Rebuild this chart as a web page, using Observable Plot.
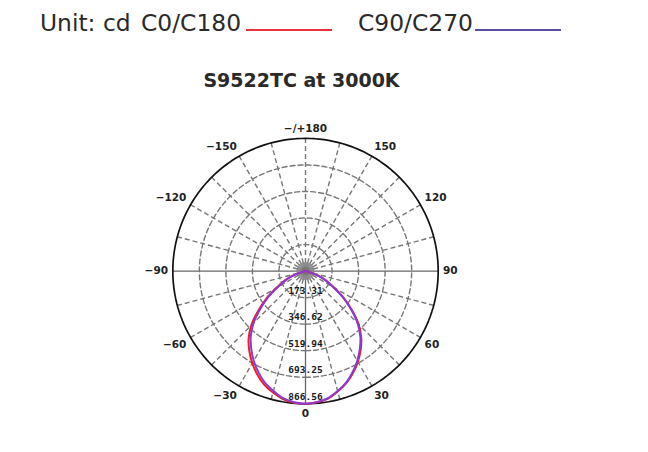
<!DOCTYPE html>
<html>
<head>
<meta charset="utf-8">
<script src="https://cdn.jsdelivr.net/npm/d3@7"></script>
<script src="https://cdn.jsdelivr.net/npm/@observablehq/plot@0.6"></script>
<style>
  body { margin: 0; background: #fff; width: 648px; height: 452px; overflow: hidden; position: relative; font-family: "DejaVu Sans", sans-serif; }
  .lg { position: absolute; font-size: 23.4px; line-height: 23.4px; color: #2a2a2a; white-space: nowrap; }
  .lgline { position: absolute; height: 0; border-top: 2px solid; }
  #title { position: absolute; top: 71px; left: 0; width: 603px; text-align: center; font-size: 19px; line-height: 19px; font-weight: bold; color: #2a2a2a; white-space: nowrap; }
  #chart { position: absolute; left: 0; top: 100px; }
</style>
</head>
<body>
<div id="legend"></div>
<div id="title"></div>
<div id="chart"></div>
<script>
// ---- data ----
const titleText = "S9522TC at 3000K";
const unitText = "Unit: cd";
const seriesNames = ["C0/C180", "C90/C270"];
const seriesColors = ["#ee1c25", "#8c3ad4"];
const legendColors = ["#e8333c", "#5c4da0"];

// gamma angles (deg), negative = left half, positive = right half, 0 = nadir
const angles = [-90,-85,-80,-75,-70,-65,-60,-55,-50,-45,-40,-35,-30,-25,-20,-15,-10,-5,0,
                5,10,15,20,25,30,35,40,45,50,55,60,65,70,75,80,85,90];
const c0c180 = [0,0,0,25,96,155,219,312,404,500,578,639,695,745,789,821,849,863,866.56,
                860,845,814,779,734,684,628,566,490,395,304,214,150,92,22,0,0,0];
const c90c270 = [0,0,0,20,90,147,209,299,387,480,556,618,676,728,775,810,843,860,866.56,
                 859,843,811,775,728,676,619,557,481,388,299,209,147,90,20,0,0,0];

const ringValues = [173.31, 346.62, 519.94, 693.25, 866.56];
const angleTicks = [0, 30, 60, 90, 120, 150, 180, -150, -120, -90, -60, -30];
const angleTickLabels = ["0", "30", "60", "90", "120", "150", "\u2212/+180", "\u2212150", "\u2212120", "\u221290", "\u221260", "\u221230"];

// ---- legend & title ----
const legend = document.getElementById("legend");
const lgPos = [{text: 141, line: 246, w: 86}, {text: 358, line: 475, w: 86}];
function addDiv(cls, css, txt) {
  const d = document.createElement("div");
  d.className = cls;
  Object.assign(d.style, css);
  if (txt != null) d.textContent = txt;
  legend.appendChild(d);
}
addDiv("lg", {left: "40px", top: "12px"}, unitText);
seriesNames.forEach((n, i) => {
  addDiv("lg", {left: lgPos[i].text + "px", top: "12px"}, n);
  addDiv("lgline", {left: lgPos[i].line + "px", top: "29px", width: lgPos[i].w + "px", borderTopColor: legendColors[i]});
});
document.getElementById("title").textContent = titleText;

// ---- polar helpers ----
const rad = a => a * Math.PI / 180;
const px = (r, a) => r * Math.sin(rad(a));
const py = (r, a) => r * Math.cos(rad(a));   // y grows downward (0 deg at bottom)

const maxR = ringValues[ringValues.length - 1];
const s = 132.7 / maxR;       // pixels per cd
const cx = 305, cy = 170.6;   // centre in svg coords
const D = 1000;

// angle labels: the label box touches a circle just outside the frame
const labelFont = 10.5;
const R0 = 137.5 / s;
const sgn = v => (Math.abs(v) < 1e-6 ? 0 : Math.sign(v));
const textW = t => [...t].reduce((w, ch) => w + (ch === "\u2212" || ch === "+" ? 0.838 : ch === "/" ? 0.365 : 0.696), 0) * labelFont;
const labelX = (a, i) => px(R0, a) + sgn(Math.sin(rad(a))) * textW(angleTickLabels[i]) / 2 / s;
const labelY = (a, i) => py(R0, a) + sgn(Math.cos(rad(a))) * 5 / s;

const spokeAngles = d3.range(0, 360, 15);
const hubAngles = d3.range(0, 360, 5);
const circleAngles = d3.range(0, 361, 2);
const ringPts = ringValues.flatMap(v => circleAngles.map(a => ({v, a})));

const series = seriesNames.map((name, i) => {
  const vals = i === 0 ? c0c180 : c90c270;
  return angles.map((a, j) => ({name, a, v: vals[j]}));
});

const solidSpokes = new Set([0, 90, 270]);

const chart = Plot.plot({
  width: 648,
  height: 352,
  x: {type: "linear", domain: [-D, D], range: [cx - D * s, cx + D * s], axis: null},
  y: {type: "linear", domain: [-D, D], range: [cy - D * s, cy + D * s], axis: null},
  style: {background: "transparent", overflow: "visible"},
  marks: [
    // radial spokes
    Plot.link(spokeAngles.filter(a => !solidSpokes.has(a)), {
      x1: 0, y1: 0, x2: a => px(maxR, a), y2: a => py(maxR, a),
      stroke: "#777", strokeWidth: 1.4, strokeDasharray: "5,3"
    }),
    Plot.link(spokeAngles.filter(a => solidSpokes.has(a)), {
      x1: 0, y1: 0, x2: a => px(maxR, a), y2: a => py(maxR, a),
      stroke: "#666", strokeWidth: 1.3
    }),
    // inner rings (dashed)
    Plot.line(ringPts.filter(d => d.v < maxR), {
      x: d => px(d.v, d.a), y: d => py(d.v, d.a), z: "v",
      stroke: "#777", strokeWidth: 1.4, strokeDasharray: "5,3"
    }),
    // hub
    Plot.link(hubAngles, {
      x1: 0, y1: 0, x2: a => px(58, a), y2: a => py(58, a),
      stroke: "#888", strokeWidth: 1
    }),
    Plot.dot([0], {x: 0, y: 0, r: 4, fill: "#777", stroke: "none"}),
    // outer circle
    Plot.line(ringPts.filter(d => d.v === maxR), {
      x: d => px(d.v, d.a), y: d => py(d.v, d.a),
      stroke: "#111", strokeWidth: 1.7
    }),
    // intensity curves
    ...series.map((data, i) => Plot.line(data, {
      x: d => px(d.v, d.a), y: d => py(d.v, d.a),
      stroke: seriesColors[i], strokeWidth: 2, curve: "catmull-rom"
    })),
    // ring labels
    Plot.text(ringValues, {
      x: 0, y: v => v, text: v => v.toFixed(2), dy: -7,
      fontFamily: "DejaVu Sans Mono", fontWeight: "bold", fontSize: 9.5, fill: "#1a1a1a"
    }),
    // angle labels
    Plot.text(angleTicks, {
      x: labelX, y: labelY,
      text: (a, i) => angleTickLabels[i],
      fontFamily: "DejaVu Sans", fontWeight: "bold", fontSize: labelFont, fill: "#222"
    })
  ]
});
document.getElementById("chart").appendChild(chart);
</script>
</body>
</html>
